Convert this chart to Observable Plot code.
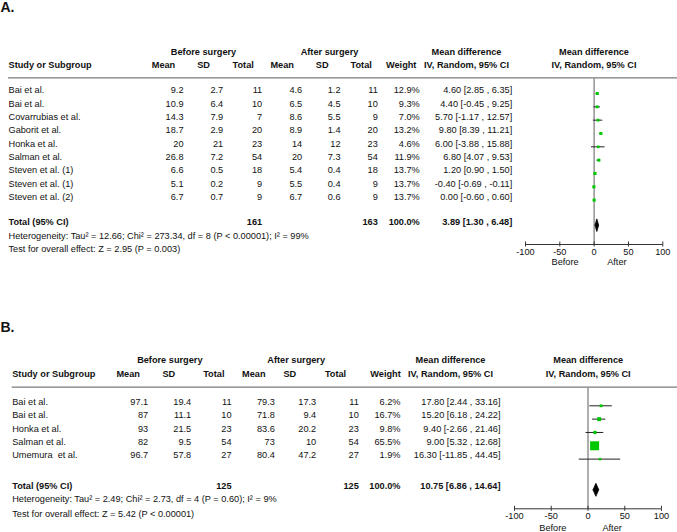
<!DOCTYPE html>
<html><head><meta charset="utf-8">
<script src="https://cdn.jsdelivr.net/npm/d3@7"></script>
<script src="https://cdn.jsdelivr.net/npm/@observablehq/plot@0.6"></script>
<style>
html,body{margin:0;padding:0;background:#fff;}
#chart{width:677px;}
#chart svg{display:block;}
#chart svg text{white-space:pre;}
</style></head><body><div id="chart"></div>
<script>
// ---------- Panel A data ----------
const studiesA = ["Bai et al.","Bai et al.","Covarrubias et al.","Gaborit et al.","Honka et al.","Salman et al.","Steven et al. (1)","Steven et al. (1)","Steven et al. (2)"];
const beforeMeanA = [9.2,10.9,14.3,18.7,20,26.8,6.6,5.1,6.7];
const beforeSdA = [2.7,6.4,7.9,2.9,21,7.2,0.5,0.2,0.7];
const beforeNA = [11,10,7,20,23,54,18,9,9];
const afterMeanA = [4.6,6.5,8.6,8.9,14,20,5.4,5.5,6.7];
const afterSdA = [1.2,4.5,5.5,1.4,12,7.3,0.4,0.4,0.6];
const afterNA = [11,10,9,20,23,54,18,9,9];
const weightA = [12.9,9.3,7.0,13.2,4.6,11.9,13.7,13.7,13.7];
const mdA = [4.60,4.40,5.70,9.80,6.00,6.80,1.20,-0.40,0.00];
const loA = [2.85,-0.45,-1.17,8.39,-3.88,4.07,0.90,-0.69,-0.60];
const hiA = [6.35,9.25,12.57,11.21,15.88,9.53,1.50,-0.11,0.60];
const totalA = {nBefore:161, nAfter:163, weight:100.0, md:3.89, lo:1.30, hi:6.48};
const hetA = "Heterogeneity: Tau² = 12.66; Chi² = 273.34, df = 8 (P < 0.00001); I² = 99%";
const testA = "Test for overall effect: Z = 2.95 (P = 0.003)";

// ---------- Panel B data ----------
const studiesB = ["Bai et al.","Bai et al.","Honka et al.","Salman et al.","Umemura  et al."];
const beforeMeanB = [97.1,87,93,82,96.7];
const beforeSdB = [19.4,11.1,21.5,9.5,57.8];
const beforeNB = [11,10,23,54,27];
const afterMeanB = [79.3,71.8,83.6,73,80.4];
const afterSdB = [17.3,9.4,20.2,10,47.2];
const afterNB = [11,10,23,54,27];
const weightB = [6.2,16.7,9.8,65.5,1.9];
const mdB = [17.80,15.20,9.40,9.00,16.30];
const loB = [2.44,6.18,-2.66,5.32,-11.85];
const hiB = [33.16,24.22,21.46,12.68,44.45];
const totalB = {nBefore:125, nAfter:125, weight:100.0, md:10.75, lo:6.86, hi:14.64};
const hetB = "Heterogeneity: Tau² = 2.49; Chi² = 2.73, df = 4 (P = 0.60); I² = 9%";
const testB = "Test for overall effect: Z = 5.42 (P < 0.00001)";

// ---------- shared labels ----------
const xTicks = [-100,-50,0,50,100];
const xDomain = [-100,100];
const groupLabels = ["Before surgery","After surgery","Mean difference","Mean difference"];
const colHeaders = ["Mean","SD","Total","Mean","SD","Total","Weight","IV, Random, 95% CI"];
const studyHeader = "Study or Subgroup";
const totalLabel = "Total (95% CI)";
const sideLabels = ["Before","After"];

const fmtCI = (m,l,h) => `${m.toFixed(2)} [${l.toFixed(2)} , ${h.toFixed(2)}]`;

function panel(P, L) {
  const rows = P.studies.map((s,i) => ({
    row: i, study: s,
    bm: String(P.bm[i]), bs: String(P.bs[i]), bn: String(P.bn[i]),
    am: String(P.am[i]), as: String(P.as[i]), an: String(P.an[i]),
    w: P.w[i].toFixed(1) + "%", ci: fmtCI(P.md[i], P.lo[i], P.hi[i]),
    md: P.md[i], lo: P.lo[i], hi: P.hi[i], wt: P.w[i]
  }));
  const toRow = p => (p - L.row0) / L.rowH;
  const T = P.total;
  const totRow = toRow(L.totalY);
  const axisRow = toRow(L.axisY);
  const totalRows = [{row: totRow, study: totalLabel, bn: String(T.nBefore), an: String(T.nAfter),
    w: T.weight.toFixed(1) + "%", ci: fmtCI(T.md, T.lo, T.hi)}];
  const hh = L.diamondH / L.rowH;
  const diamond = [
    {x: T.lo, y: totRow}, {x: T.md, y: totRow - hh}, {x: T.hi, y: totRow}, {x: T.md, y: totRow + hh}, {x: T.lo, y: totRow}
  ];
  const keys = ["bm","bs","bn","am","as","an","w","ci"];
  const marks = [];
  marks.push(Plot.text([P.letter], {text: d => d, y: toRow(L.letterY), frameAnchor: "left", dx: 0,
    textAnchor: "start", fontWeight: "bold", fontSize: 14}));
  L.groupX.forEach((gx, j) => {
    marks.push(Plot.text([groupLabels[j]], {text: d => d, y: toRow(L.groupY), frameAnchor: "left", dx: gx,
      textAnchor: "middle", fontWeight: "bold"}));
  });
  marks.push(Plot.text([studyHeader], {text: d => d, y: toRow(L.headY), frameAnchor: "left", dx: L.studyX,
    textAnchor: "start", fontWeight: "bold"}));
  L.headX.forEach((hx, j) => {
    marks.push(Plot.text([colHeaders[j]], {text: d => d, y: toRow(L.headY), frameAnchor: "left", dx: hx,
      textAnchor: "middle", fontWeight: "bold"}));
  });
  marks.push(Plot.text([colHeaders[7]], {text: d => d, y: toRow(L.headY), frameAnchor: "left", dx: L.groupX[3],
    textAnchor: "middle", fontWeight: "bold"}));
  marks.push(Plot.ruleY([toRow(L.lineY)], {insetLeft: L.studyX, stroke: "#7a7a7a", strokeWidth: 1.2}));
  marks.push(Plot.text(rows, {y: "row", text: "study", frameAnchor: "left", dx: L.studyX, textAnchor: "start"}));
  keys.forEach((k, j) => {
    marks.push(Plot.text(rows, {y: "row", text: k, frameAnchor: "left", dx: L.colX[j], textAnchor: "end"}));
  });
  marks.push(Plot.text(totalRows, {y: "row", text: "study", frameAnchor: "left", dx: L.studyX, textAnchor: "start", fontWeight: "bold"}));
  ["bn","an","w","ci"].forEach(k => {
    const j = keys.indexOf(k);
    marks.push(Plot.text(totalRows, {y: "row", text: k, frameAnchor: "left", dx: L.colX[j], textAnchor: "end", fontWeight: "bold"}));
  });
  marks.push(Plot.text([P.het], {text: d => d, y: toRow(L.hetY), frameAnchor: "left", dx: L.studyX, textAnchor: "start"}));
  marks.push(Plot.text([P.test], {text: d => d, y: toRow(L.testY), frameAnchor: "left", dx: L.studyX, textAnchor: "start"}));
  // forest
  marks.push(Plot.ruleX([0], {y1: toRow(L.lineY), y2: axisRow, stroke: "#9a9a9a", strokeWidth: 1.6}));
  marks.push(Plot.ruleY(rows, {y: "row", x1: "lo", x2: "hi", dy: L.dy, stroke: "#222", strokeWidth: 1}));
  marks.push(Plot.dot(rows, {x: "md", y: "row", r: "wt", symbol: "square", fill: "#00c800", dy: L.dy}));
  marks.push(Plot.line(diamond, {x: "x", y: "y", fill: "#000", stroke: "#000", strokeWidth: 0.8, dy: L.dy}));
  marks.push(Plot.ruleY([axisRow], {x1: xDomain[0], x2: xDomain[1], stroke: "#333", strokeWidth: 1}));
  // small upward tick stubs (reference ticks straddle the axis line)
  marks.push(Plot.ruleX(xTicks, {x: d => d, y1: axisRow, y2: axisRow, insetTop: -2.5, insetBottom: 0, stroke: "#333"}));
  marks.push(Plot.axisX({ticks: xTicks, tickSize: 2.5, tickPadding: 1.5, tickFormat: d => String(d), stroke: "#333"}));
  marks.push(Plot.text([sideLabels[0]], {text: d => d, x: [0], y: axisRow, dy: L.sideDy, dx: L.beforeDx, textAnchor: "end"}));
  marks.push(Plot.text([sideLabels[1]], {text: d => d, x: [0], y: axisRow, dy: L.sideDy, dx: L.afterDx, textAnchor: "start"}));

  return Plot.plot({
    width: 677, height: L.height,
    marginLeft: 0, marginRight: 0, marginTop: 0, marginBottom: L.height - L.axisY,
    x: {domain: xDomain, range: L.xRange},
    y: {domain: [0, 1], range: [L.row0, L.row0 + L.rowH], axis: null},
    r: {type: "linear", domain: [0, L.wMax], range: L.rRange},
    style: {fontFamily: "'Liberation Sans', Arial, Helvetica, sans-serif", fontSize: "9.2px", background: "#fff", color: "#111"},
    marks
  });
}

const layoutA = {
  height: 300, letterY: 7.5, groupY: 51.7, headY: 64.3, lineY: 77.3, row0: 90, rowH: 13.33,
  totalY: 221.7, hetY: 235.7, testY: 249, axisY: 244,
  studyX: 8,
  colX: [183, 222.7, 261.7, 301.7, 340, 377.3, 419.3, 511.7],
  headX: [163, 203, 242.7, 281.7, 321.7, 360.7, 400.7, 466],
  groupX: [203, 329, 466, 593.5],
  xRange: [525, 662.3], dy: 3, diamondH: 6.3, sideDy: 17.7, beforeDx: -15.5, afterDx: 13,
  wMax: 13.7, rRange: [2.3/1.772, 3.1/1.772]
};
const layoutB = {
  height: 232, letterY: 26.7, groupY: 60, headY: 73.3, lineY: 86.7, row0: 101.7, rowH: 13.33,
  totalY: 185.7, hetY: 199, testY: 213.3, axisY: 208.3,
  studyX: 11.7,
  colX: [147.7, 190.7, 231, 274.3, 315.7, 358.3, 400, 500],
  headX: [127.7, 168.3, 213.3, 253.3, 289.3, 335, 385, 450],
  groupX: [169.3, 295.7, 450, 587.7],
  xRange: [514, 661], dy: 3.6, diamondH: 6.5, sideDy: 19.4, beforeDx: -21.6, afterDx: 14.4,
  wMax: 65.5, rRange: [2.2/1.772, 9/1.772]
};

const chart = document.getElementById("chart");
chart.appendChild(panel({letter: "A.", studies: studiesA, bm: beforeMeanA, bs: beforeSdA, bn: beforeNA,
  am: afterMeanA, as: afterSdA, an: afterNA, w: weightA, md: mdA, lo: loA, hi: hiA,
  total: totalA, het: hetA, test: testA}, layoutA));
chart.appendChild(panel({letter: "B.", studies: studiesB, bm: beforeMeanB, bs: beforeSdB, bn: beforeNB,
  am: afterMeanB, as: afterSdB, an: afterNB, w: weightB, md: mdB, lo: loB, hi: hiB,
  total: totalB, het: hetB, test: testB}, layoutB));
</script></body></html>
